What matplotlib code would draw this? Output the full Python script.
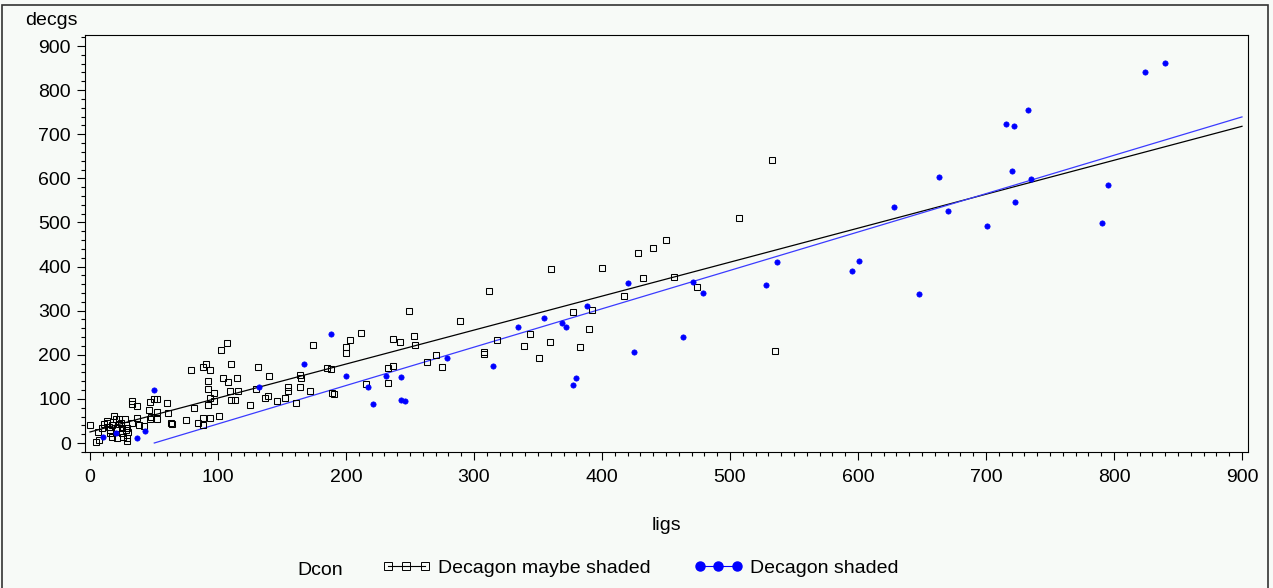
import numpy as np
import matplotlib
matplotlib.use("Agg")
import matplotlib.pyplot as plt
from matplotlib.lines import Line2D
from matplotlib.patches import Rectangle
from matplotlib.ticker import MultipleLocator

# Dcon = "Decagon maybe shaded"
maybe_ligs = [0, 6, 5, 7, 9, 11, 13, 15, 16, 17, 19, 20, 21, 21, 23, 23, 25, 25, 26, 27,
              29, 29, 33, 33, 33, 37, 38, 42, 46, 47, 50, 52, 48, 52, 47, 52, 60, 61, 63, 64,
              75, 79, 81, 84, 88, 88, 88, 91, 92, 92, 92, 94, 94, 94, 97, 97, 101, 102, 104, 107,
              108, 110, 109, 110, 113, 115, 116, 125, 131, 137, 139, 140, 146,
              16, 28, 29, 30, 37, 24, 17, 13,
              130, 152, 155, 155, 161, 164, 165, 164, 172, 174, 185, 188, 189, 191, 200, 200,
              203, 212, 216, 233, 233, 237, 237, 242, 249, 253, 254, 263, 270, 275, 289, 308,
              308, 312, 318, 339, 344, 351, 359, 360, 377, 383, 390, 392, 400, 417, 428, 432,
              440, 450, 456, 474, 507, 533, 535]
maybe_decgs = [41, 25, 3, 7, 33, 43, 51, 37, 22, 13, 62, 54, 33, 11, 43, 54, 35, 23, 13, 54,
               34, 11, 46, 95, 88, 83, 41, 39, 75, 92, 100, 100, 60, 71, 54, 54, 90, 67, 46, 44,
               53, 166, 80, 46, 172, 57, 41, 178, 141, 122, 87, 166, 102, 57, 114, 96, 62, 211, 148, 226,
               139, 179, 117, 97, 97, 148, 118, 87, 173, 103, 106, 152, 96,
               29, 29, 5, 24, 57, 46, 41, 45,
               122, 103, 128, 117, 91, 154, 147, 128, 119, 222, 169, 167, 114, 112, 217, 204,
               233, 249, 133, 169, 136, 174, 235, 228, 300, 243, 223, 183, 200, 172, 276, 206,
               201, 345, 234, 221, 248, 193, 229, 394, 297, 218, 258, 302, 397, 334, 431, 374,
               441, 460, 376, 354, 509, 642, 209]

# Dcon = "Decagon shaded"
shaded_ligs = [10, 20, 37, 43, 50, 132, 167, 188, 200, 217, 221, 231, 243, 243, 246, 279,
               315, 334, 355, 369, 372, 377, 380, 388, 420, 425, 463, 471, 479, 528, 537, 595,
               601, 628, 648, 663, 670, 701, 716, 720, 722, 723, 733, 735, 791, 795, 824, 840]
shaded_decgs = [14, 23, 11, 28, 121, 128, 178, 248, 153, 127, 89, 153, 150, 98, 95, 193,
                175, 264, 284, 272, 264, 131, 147, 310, 362, 207, 240, 364, 341, 358, 410, 390,
                413, 534, 337, 602, 526, 493, 723, 617, 719, 546, 755, 598, 499, 585, 842, 862]

# Least-squares lines per group (intercept, slope)
group_names = ["Decagon maybe shaded", "Decagon shaded"]
fit_intercept = [25.0, -43.7]
fit_slope = [0.77, 0.87]

x_ticks = list(range(0, 901, 100))
y_ticks = list(range(0, 901, 100))

W, H = 1273, 588
BG = "#F7FAF7"
FONT = "Liberation Sans"
FS = 14

plt.rcParams["font.family"] = [FONT, "DejaVu Sans"]

fig = plt.figure(figsize=(W / 100, H / 100), dpi=100, facecolor=BG)


def fx(px):
    return px / W


def fy(py):
    return (H - py) / H


ax = fig.add_axes([fx(85), fy(452), fx(1248) - fx(85), fy(35) - fy(452)])
ax.set_facecolor(BG)

ax.set_xlim(-3.9, 904.7)
ax.set_ylim(-20.4, 925)

line_colors = ["black", "#3a3aff"]

ax.plot(maybe_ligs, maybe_decgs, linestyle="none", marker="s", markersize=3.7,
        markerfacecolor="none", markeredgecolor="black", markeredgewidth=0.75, zorder=3)
ax.plot(shaded_ligs, shaded_decgs, linestyle="none", marker="o", markersize=3.8,
        markerfacecolor="#0000FF", markeredgecolor="#0000FF", markeredgewidth=0.5, zorder=4)

for b, m, c in zip(fit_intercept, fit_slope, line_colors):
    x0 = max(0.0, -b / m)
    xs = np.array([x0, 900.0])
    ax.plot(xs, b + m * xs, color=c, linewidth=0.9, zorder=2)

for s in ax.spines.values():
    s.set_color("black")
    s.set_linewidth(0.8)

ax.set_xticks(x_ticks)
ax.set_yticks(y_ticks)
ax.xaxis.set_minor_locator(MultipleLocator(10))
ax.yaxis.set_minor_locator(MultipleLocator(20))
ax.tick_params(which="major", direction="out", length=6, width=0.8, labelsize=FS,
               color="black", pad=4)
ax.tick_params(which="minor", direction="out", length=3, width=0.8, color="black")
ax.tick_params(axis="x", which="major", pad=6)
for lab in ax.get_xticklabels() + ax.get_yticklabels():
    lab.set_fontfamily(FONT)

# axis titles
fig.text(fx(25), fy(25), "decgs", fontsize=FS, ha="left", va="baseline")
fig.text(fx(666), fy(530), "ligs", fontsize=FS, ha="center", va="baseline")

# legend
fig.text(fx(297), fy(575), "Dcon", fontsize=FS, ha="left", va="baseline")
handles = [
    Line2D([], [], color="black", linewidth=0.8, marker="s", markersize=5.5,
           markerfacecolor="none", markeredgecolor="black", markeredgewidth=0.7),
    Line2D([], [], color="#0000FF", linewidth=0.8, marker="o", markersize=6.5,
           markerfacecolor="#0000FF", markeredgecolor="#0000FF"),
]
fig.legend(handles, group_names, loc="center left", bbox_to_anchor=(fx(382), fy(568)),
           frameon=False, fontsize=FS, numpoints=3, handlelength=2.5, handletextpad=0.4,
           columnspacing=2.2, ncol=2, borderpad=0, borderaxespad=0)

# outer border
fig.add_artist(Rectangle((fx(2), fy(600)), fx(1268) - fx(2), fy(5) - fy(600),
                         transform=fig.transFigure, fill=False, edgecolor="#333333",
                         linewidth=1.2))

fig.savefig("out.png", dpi=100, facecolor=BG)
